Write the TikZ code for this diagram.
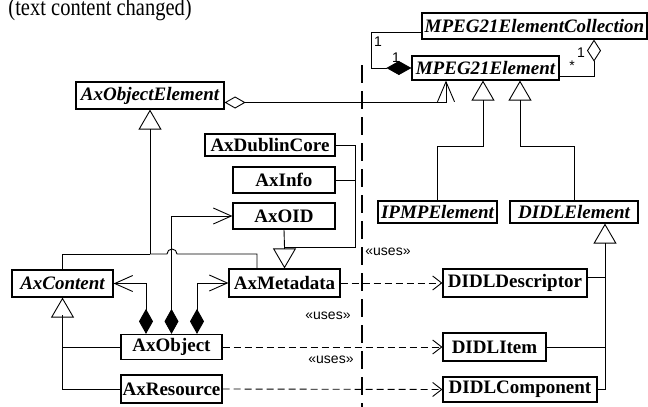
\documentclass[tikz,border=0pt]{standalone}
\usepackage{fontspec}
\setmainfont{Liberation Serif}
\setsansfont{Liberation Sans}
\usetikzlibrary{arrows.meta}
\tikzstyle{klass}=[draw, fill=white, line width=1.2pt, inner sep=0pt, font=\fontsize{19}{21}\selectfont\bfseries]
\tikzstyle{abstract}=[klass, font=\fontsize{19}{21}\selectfont\bfseries\itshape]
\tikzstyle{note}=[inner sep=0pt, font=\sffamily\fontsize{14}{16}\selectfont]
\tikzstyle{gen}=[-{Triangle[open, length=20pt, width=23pt]}]
\tikzstyle{comp}=[-{Diamond[length=25pt, width=14pt]}]
\tikzstyle{aggr}=[-{Diamond[open, length=22pt, width=14pt]}]
\tikzstyle{compnav}=[{Diamond[length=25pt, width=14pt]}-{Straight Barb[length=18pt, width=16pt]}]
\tikzstyle{aggrnav}=[{Diamond[open, length=21pt, width=12pt]}-{Straight Barb[length=20pt, width=17pt]}]
\tikzstyle{uses}=[dash pattern=on 7pt off 4pt, -{Straight Barb[length=9pt, width=14pt]}]

\begin{document}
\begin{tikzpicture}[x=1pt, y=-1pt, line width=0.9pt]
                    \useasboundingbox (0,0) rectangle (648,407);
                    \node[anchor=base west, inner sep=0pt, font=\fontsize{20.5}{24}\selectfont] (title) at (8,15) {\scalebox{1}[1.2]{(text content changed)}};
                    % separator
                    \coordinate (sepT) at (362,65);
                    \coordinate (sepB) at (362,407);
                    \draw[line width=1.6pt, dash pattern=on 18pt off 8pt] (sepT) -- (sepB);
                    % MPEG-21 side
                    \node[abstract, minimum width=225, minimum height=26] (coll)  at (534.5, 26) {MPEG21ElementCollection};
                    \node[abstract, minimum width=147, minimum height=24] (elem)  at (485.5, 68) {MPEG21Element};
                    \node[abstract, minimum width=119, minimum height=22] (ipmp)  at (437.5,212) {IPMPElement};
                    \node[abstract, minimum width=128, minimum height=22] (didl)  at (574,  212) {DIDLElement};
                    \node[klass, minimum width=144, minimum height=28] (ddesc) at (515,  283) {DIDLDescriptor};
                    \node[klass, minimum width=103, minimum height=28] (ditem) at (494.5,347) {DIDLItem};
                    \node[klass, minimum width=154, minimum height=25] (dcomp) at (520,  389.5) {DIDLComponent};
                    % Ax side
                    \node[abstract, minimum width=148, minimum height=27] (axelem) at (150, 95.5) {AxObjectElement};
                    \node[klass, minimum width=130, minimum height=22] (adc)   at (270,  145) {AxDublinCore};
                    \node[klass, minimum width=102, minimum height=26] (ainfo) at (284,  180) {AxInfo};
                    \node[klass, minimum width=102, minimum height=26] (aoid)  at (284,  216) {AxOID};
                    \node[abstract, minimum width=101, minimum height=27] (acont) at (62.5, 283.5) {AxContent};
                    \node[klass, minimum width=111, minimum height=28] (ameta) at (284.5,283) {AxMetadata};
                    \node[klass, minimum width=101, minimum height=25] (aobj)  at (171.5,347) {AxObject};
                    \node[klass, minimum width=101, minimum height=28] (ares)  at (171.5,389) {AxResource};
                    % collection and elements
                    \draw[comp] ([yshift=-6pt]coll.west) -| ([xshift=-40pt]elem.west) -- (elem.west);
                    \draw[aggr] ([yshift=-8pt]elem.east) -| ([xshift=59.5pt]coll.south);
                    \node[note] (m1) at (378,42) {1};
                    \node[note] (m2) at (396,58) {1};
                    \node[note] (m3) at (581,53) {1};
                    \node[note] (m4) at (572,66) {*};
                    \draw[aggrnav] ([yshift=-7pt]axelem.east) -| ([xshift=-39.5pt]elem.south);
                    \draw[gen] (ipmp.north) -- ++(0,-54) -| ([xshift=-2.5pt]elem.south);
                    \draw[gen] (didl.north) -- ++(0,-54) -| ([xshift=34.5pt]elem.south);
                    % DIDL specialisations
                    \coordinate (dhub)  at ([xshift=31pt]didl.south);
                    \coordinate (dbase) at ([yshift=-20pt]dhub);
                    \draw (dcomp.east) -| (dbase);
                    \draw (ditem.east) -| (dbase);
                    \draw[gen] ([yshift=6pt]ddesc.east) -| (dhub);
                    % Ax specialisations
                    \coordinate (hub)  at (150,254);
                    \coordinate (jump) at (172,254);
                    \draw[gen] (hub) -- (axelem.south);
                    \draw (acont.north) |- (hub);
                    \draw ([xshift=-27.5pt]ameta.north) |- ([xshift=5pt]jump) arc[start angle=0, end angle=180, radius=5pt] -- (hub);
                    \draw[gen] (acont.north |- 0,315) -- (acont.south);
                    \draw (aobj.west) -| (acont.south |- 0,315);
                    \draw (ares.west) -| (acont.south |- 0,315);
                    % metadata
                    \coordinate (mhub) at ([yshift=21pt]ameta.north);
                    \draw (adc.east) -- ++(20,0) |- (mhub);
                    \draw (ainfo.east) -- ++(20,0);
                    \draw (aoid.south) -- (mhub);
                    \draw[gen] (mhub) -- (ameta.north);
                    % compositions of AxObject
                    \draw[compnav] ([xshift=-25.5pt]aobj.north) |- (acont.east);
                    \draw[compnav] (aobj.north) |- (aoid.west);
                    \draw[compnav] ([xshift=25.5pt]aobj.north) |- (ameta.west);
                    % uses
                    \draw[uses] (ameta.east) -- (ddesc.west);
                    \draw[uses] (aobj.east) -- (ditem.west);
                    \draw[uses] (ares.east) -- (dcomp.west);
                    \node[note] (u1) at (388,252) {«uses»};
                    \node[note] (u2) at (328,316) {«uses»};
                    \node[note] (u3) at (331,360) {«uses»};
                \end{tikzpicture}
\end{document}
